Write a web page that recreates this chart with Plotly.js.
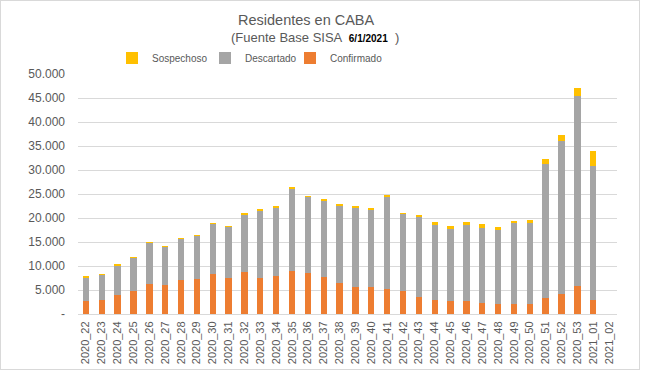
<!DOCTYPE html>
<html>
<head>
<meta charset="utf-8">
<script src="https://cdn.plot.ly/plotly-3.0.1.min.js"></script>
<style>
  html, body { margin: 0; padding: 0; background: #fff; }
  #wrap { position: relative; width: 646px; height: 373px; }
  #chart { width: 646px; height: 373px; }
  #frame { position: absolute; left: 0; top: 0; width: 638px; height: 368px; border: 1px solid #d9d9d9; pointer-events: none; }
</style>
</head>
<body>
<div id="wrap"><div id="chart"></div><div id="frame"></div></div>
<script>
const weeks = ["2020_22","2020_23","2020_24","2020_25","2020_26","2020_27","2020_28","2020_29","2020_30","2020_31",
  "2020_32","2020_33","2020_34","2020_35","2020_36","2020_37","2020_38","2020_39","2020_40","2020_41",
  "2020_42","2020_43","2020_44","2020_45","2020_46","2020_47","2020_48","2020_49","2020_50","2020_51",
  "2020_52","2020_53","2021_01","2021_02"];
const confirmado = [2700,3000,3950,4850,6300,6000,7150,7300,8400,7600,
  8800,7600,8000,9000,8600,7700,6450,5600,5600,5200,
  4800,3500,3000,2700,2700,2300,2150,2150,2150,3400,
  4200,5900,3000,null];
const descartado = [4900,5050,6150,6850,8500,7900,8400,9000,10400,10600,
  11800,13900,14150,17000,15800,15800,16150,16550,16100,19200,
  16100,16700,15500,15000,15800,15700,15450,16800,16800,27900,
  31800,39600,27900,null];
const sospechoso = [300,250,300,200,200,300,250,200,150,200,
  400,400,350,450,200,450,350,350,350,400,
  150,400,650,600,650,750,550,450,650,1000,
  1300,1600,3100,null];
const yTickVals = [0,5000,10000,15000,20000,25000,30000,35000,40000,45000,50000];
const yTickText = ["-","5.000","10.000","15.000","20.000","25.000","30.000","35.000","40.000","45.000","50.000"];

const FONT = "Liberation Sans, Arial, sans-serif";
const TXT = "#595959";

const traces = [
  {type: "bar", name: "Confirmado", x: weeks, y: confirmado, marker: {color: "#ED7D31"}, legend: "legend3"},
  {type: "bar", name: "Descartado", x: weeks, y: descartado, marker: {color: "#A5A5A5"}, legend: "legend2"},
  {type: "bar", name: "Sospechoso", x: weeks, y: sospechoso, marker: {color: "#FFC000"}, legend: "legend"}
];

const W = 539, H = 240, L = 78, B = 314;
function legendAt(px) {
  return {orientation: "h", x: (px - L) / W, xanchor: "left", y: (B - 58) / H, yanchor: "middle",
    font: {family: FONT, size: 10, color: TXT}, itemwidth: 30, bgcolor: "rgba(0,0,0,0)"};
}

const layout = {
  width: 646, height: 373,
  margin: {l: 78, r: 29, t: 74, b: 59},
  paper_bgcolor: "#fff", plot_bgcolor: "#fff",
  barmode: "stack", bargap: 0.6,
  font: {family: FONT, color: TXT, size: 11},
  showlegend: true,
  legend: legendAt(112),
  legend2: legendAt(205),
  legend3: legendAt(290),
  xaxis: {type: "category", tickangle: -90, tickfont: {family: FONT, size: 11, color: TXT},
    showline: true, linecolor: "#d9d9d9", linewidth: 1, ticks: "", showgrid: false, ticklabelstandoff: 2,
    fixedrange: true},
  yaxis: {range: [0, 50000], tickvals: yTickVals, ticktext: yTickText, tickfont: {family: FONT, size: 12, color: TXT},
    showgrid: true, gridcolor: "#d9d9d9", gridwidth: 1, zeroline: false, showline: false, ticks: "",
    ticklabelstandoff: 12, fixedrange: true},
  annotations: [
    {text: "Residentes en CABA", xref: "paper", yref: "paper", x: (306-78)/539, y: (314-20)/240,
      xanchor: "center", yanchor: "middle", showarrow: false, font: {family: FONT, size: 14.5, color: TXT}},
    {text: "(Fuente Base SISA  <b><span style='color:#000;font-size:10px'>6/1/2021</span></b>  )", xref: "paper", yref: "paper",
      x: (315-78)/539, y: (314-37)/240, xanchor: "center", yanchor: "middle", showarrow: false,
      font: {family: FONT, size: 13, color: TXT}}
  ]
};

Plotly.newPlot("chart", traces, layout, {displayModeBar: false, staticPlot: true});
</script>
</body>
</html>
